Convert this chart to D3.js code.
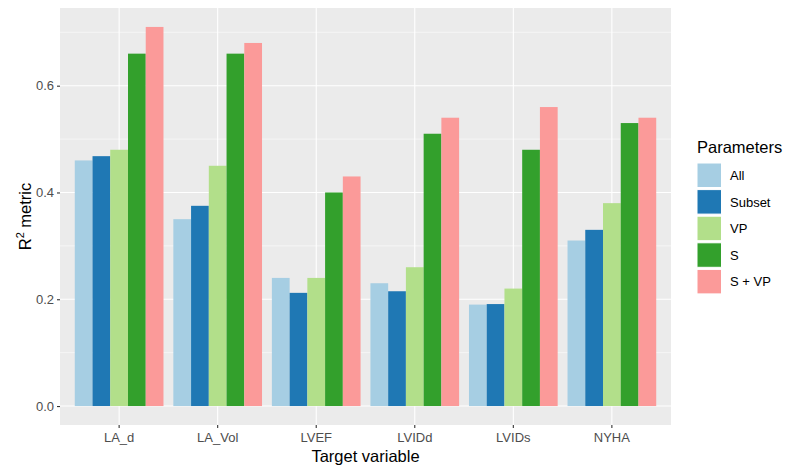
<!DOCTYPE html>
<html>
<head>
<meta charset="utf-8">
<script src="https://cdn.jsdelivr.net/npm/d3@7"></script>
<style>
  body { margin: 0; background: #fff; }
  text { font-family: "Liberation Sans", Arial, sans-serif; }
</style>
</head>
<body>
<svg width="800" height="474"></svg>
<script>
var targets = ["LA_d", "LA_Vol", "LVEF", "LVIDd", "LVIDs", "NYHA"];
var params = ["All", "Subset", "VP", "S", "S + VP"];
var colors = ["#A6CEE3", "#1F78B4", "#B2DF8A", "#33A02C", "#FB9A99"];

// R2 per target, one array per parameter set
var allVals    = [0.46, 0.35, 0.24, 0.23, 0.19, 0.31];
var subsetVals = [0.468, 0.375, 0.212, 0.215, 0.191, 0.33];
var vpVals     = [0.48, 0.45, 0.24, 0.26, 0.22, 0.38];
var sVals      = [0.66, 0.66, 0.40, 0.51, 0.48, 0.53];
var svpVals    = [0.71, 0.68, 0.43, 0.54, 0.56, 0.54];
var yTicks = [0, 0.2, 0.4, 0.6];

var series = [allVals, subsetVals, vpVals, sVals, svpVals];
var data = [];
targets.forEach(function(t, i) {
  params.forEach(function(p, j) {
    data.push({ target: t, param: p, value: series[j][i] });
  });
});

var svg = d3.select("svg");
var margin = { top: 8, right: 129, bottom: 49, left: 60 };
var width = +svg.attr("width") - margin.left - margin.right;
var height = +svg.attr("height") - margin.top - margin.bottom;

var g = svg.append("g")
  .attr("transform", "translate(" + margin.left + "," + margin.top + ")");

var ymax = d3.max(data, function(d) { return d.value; });
var pad = ymax * 0.05;
var y = d3.scaleLinear()
  .domain([-pad, ymax + pad])
  .range([height, 0]);

// discrete axis with 0.6 expansion each side
var step = width / (targets.length + 0.2);
var x = function(t) { return (targets.indexOf(t) + 0.6) * step; };
var groupW = step * 0.9;
var x1 = d3.scaleBand().domain(params).range([-groupW / 2, groupW / 2]);
var color = d3.scaleOrdinal().domain(params).range(colors);

g.append("rect")
  .attr("width", width)
  .attr("height", height)
  .attr("fill", "#EBEBEB");

// minor grid
var minor = [0.1, 0.3, 0.5, 0.7];
g.selectAll(".minor")
  .data(minor)
  .enter().append("line")
    .attr("x1", 0).attr("x2", width)
    .attr("y1", function(d) { return y(d); })
    .attr("y2", function(d) { return y(d); })
    .attr("stroke", "#fff")
    .attr("stroke-width", 0.55);

g.selectAll(".major")
  .data(yTicks)
  .enter().append("line")
    .attr("x1", 0).attr("x2", width)
    .attr("y1", function(d) { return y(d); })
    .attr("y2", function(d) { return y(d); })
    .attr("stroke", "#fff")
    .attr("stroke-width", 1.1);

g.selectAll(".vmajor")
  .data(targets)
  .enter().append("line")
    .attr("x1", function(d) { return x(d); })
    .attr("x2", function(d) { return x(d); })
    .attr("y1", 0).attr("y2", height)
    .attr("stroke", "#fff")
    .attr("stroke-width", 1.1);

g.selectAll(".bar")
  .data(data)
  .enter().append("rect")
    .attr("x", function(d) { return x(d.target) + x1(d.param); })
    .attr("width", x1.bandwidth())
    .attr("y", function(d) { return y(d.value); })
    .attr("height", function(d) { return y(0) - y(d.value); })
    .attr("fill", function(d) { return color(d.param); });

// y axis
var yAxis = g.append("g")
  .call(d3.axisLeft(y).tickValues(yTicks).tickFormat(d3.format(".1f")).tickSize(3).tickPadding(3));
yAxis.select(".domain").remove();
yAxis.selectAll("line").attr("stroke", "#333").attr("stroke-width", 1.1);
yAxis.selectAll("text").attr("fill", "#4D4D4D").style("font-size", "13px");

// x axis
var xAxis = g.append("g").attr("transform", "translate(0," + height + ")");
xAxis.selectAll(".tick")
  .data(targets)
  .enter().append("g")
    .attr("transform", function(d) { return "translate(" + x(d) + ",0)"; })
    .each(function(d) {
      var t = d3.select(this);
      t.append("line").attr("y2", 3).attr("stroke", "#333").attr("stroke-width", 1.1);
      t.append("text").attr("y", 17).attr("text-anchor", "middle")
        .attr("fill", "#4D4D4D").style("font-size", "13px").text(d);
    });

g.append("text")
  .attr("x", width / 2)
  .attr("y", height + 37)
  .attr("text-anchor", "middle")
  .style("font-size", "16.5px")
  .attr("fill", "#000")
  .text("Target variable");

var yt = svg.append("text")
  .attr("transform", "translate(31," + (margin.top + height / 2) + ") rotate(-90)")
  .attr("text-anchor", "middle")
  .style("font-size", "16.5px")
  .attr("fill", "#000");
yt.append("tspan").text("R");
yt.append("tspan").attr("dy", -7).style("font-size", "11px").text("2");
yt.append("tspan").attr("dy", 7).text(" metric");

// legend
var legend = svg.append("g").attr("transform", "translate(697,147)");
legend.append("text")
  .attr("x", 0).attr("y", 6)
  .style("font-size", "16.5px")
  .attr("fill", "#000")
  .text("Parameters");

var key = legend.selectAll(".key")
  .data(params)
  .enter().append("g")
    .attr("transform", function(d, i) { return "translate(0," + (16 + i * 26.6) + ")"; });
key.append("rect")
  .attr("width", 24.5).attr("height", 24.5)
  .attr("fill", function(d) { return color(d); })
  .attr("stroke", "#fff").attr("stroke-width", 1);
key.append("text")
  .attr("x", 33).attr("y", 12.5).attr("dy", "0.35em")
  .style("font-size", "13px")
  .attr("fill", "#000")
  .text(function(d) { return d; });
</script>
</body>
</html>
